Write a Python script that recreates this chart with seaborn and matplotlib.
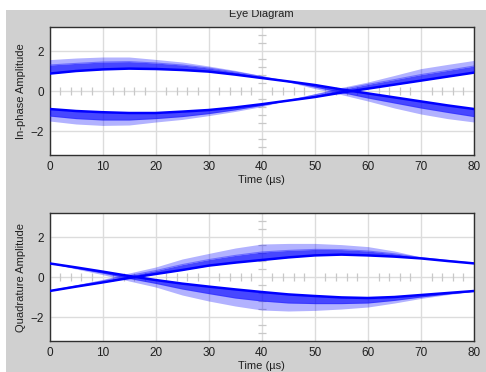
import numpy as np
import matplotlib
matplotlib.use("Agg")
import matplotlib.pyplot as plt
from matplotlib.patches import Rectangle
import seaborn as sns

# ---- data ----
time_us = [0, 5, 10, 15, 20, 25, 30, 35, 40, 45, 50, 55, 60, 65, 70, 75, 80]

# In-phase, family starting positive
i_pos_inner = [0.87, 1.0, 1.08, 1.12, 1.1, 1.05, 0.97, 0.82, 0.65, 0.48, 0.3, 0.08, -0.12, -0.32, -0.52, -0.72, -0.9]
i_pos_mid = [1.3, 1.38, 1.45, 1.47, 1.4, 1.3, 1.15, 0.95, 0.72, 0.47, 0.2, -0.07, -0.35, -0.6, -0.85, -1.07, -1.28]
i_pos_outer = [1.57, 1.65, 1.7, 1.7, 1.58, 1.45, 1.25, 1.03, 0.77, 0.45, 0.12, -0.18, -0.5, -0.85, -1.15, -1.38, -1.55]
# In-phase, family starting negative
i_neg_inner = [-0.9, -1.0, -1.06, -1.1, -1.1, -1.03, -0.95, -0.82, -0.66, -0.48, -0.3, -0.08, 0.12, 0.32, 0.52, 0.72, 0.92]
i_neg_mid = [-1.25, -1.38, -1.45, -1.45, -1.38, -1.28, -1.13, -0.94, -0.72, -0.47, -0.2, 0.07, 0.33, 0.57, 0.82, 1.03, 1.25]
i_neg_outer = [-1.5, -1.65, -1.72, -1.7, -1.55, -1.42, -1.23, -1.02, -0.78, -0.45, -0.13, 0.18, 0.45, 0.78, 1.12, 1.33, 1.53]

# Quadrature, family starting positive
q_pos_inner = [0.68, 0.48, 0.27, 0.05, -0.15, -0.33, -0.48, -0.62, -0.75, -0.87, -0.95, -1.02, -1.05, -1.0, -0.9, -0.8, -0.7]
q_pos_mid = [0.69, 0.44, 0.2, -0.07, -0.32, -0.6, -0.83, -1.05, -1.2, -1.3, -1.33, -1.33, -1.3, -1.17, -1.0, -0.85, -0.71]
q_pos_outer = [0.7, 0.4, 0.12, -0.2, -0.5, -0.9, -1.2, -1.45, -1.65, -1.7, -1.67, -1.6, -1.5, -1.3, -1.07, -0.88, -0.72]
# Quadrature, family starting negative
q_neg_inner = [-0.7, -0.48, -0.27, -0.05, 0.15, 0.35, 0.57, 0.72, 0.85, 0.98, 1.08, 1.12, 1.08, 1.02, 0.93, 0.8, 0.68]
q_neg_mid = [-0.7, -0.44, -0.2, 0.07, 0.32, 0.62, 0.87, 1.08, 1.25, 1.33, 1.38, 1.37, 1.3, 1.16, 0.97, 0.83, 0.69]
q_neg_outer = [-0.7, -0.4, -0.12, 0.2, 0.5, 0.9, 1.18, 1.45, 1.65, 1.68, 1.68, 1.62, 1.52, 1.3, 1.0, 0.85, 0.7]

x_ticks = [0, 10, 20, 30, 40, 50, 60, 70, 80]
y_ticks = [-2, 0, 2]
title = "Eye Diagram"
x_label = "Time (\u00b5s)"
y_labels = ["In-phase Amplitude", "Quadrature Amplitude"]

# ---- style ----
sns.set_theme(style="white")
plt.rcParams['font.family'] = ['Liberation Sans', 'DejaVu Sans']
plt.rcParams['font.size'] = 8

BG = '#d0d0d0'
GRID = '#dcdcdc'
fig = plt.figure(figsize=(4.86, 3.72), dpi=100, facecolor=BG)

ax_top = fig.add_axes([0.1019, 0.5833, 0.8735, 0.3441])
ax_bot = fig.add_axes([0.1019, 0.0833, 0.8735, 0.3441])


def draw_family(ax, inner, mid, outer):
    ax.fill_between(time_us, mid, outer, color='#0000ff', alpha=0.3, lw=0, zorder=3)
    ax.fill_between(time_us, inner, mid, color='#0000ff', alpha=0.72, lw=0, zorder=3)
    sns.lineplot(x=time_us, y=mid, ax=ax, color='#2a2aff', lw=0.8, alpha=0.5, zorder=4)
    sns.lineplot(x=time_us, y=inner, ax=ax, color='#0000ff', lw=1.8, zorder=5)


panels = [
    (ax_top, [(i_pos_inner, i_pos_mid, i_pos_outer), (i_neg_inner, i_neg_mid, i_neg_outer)], y_labels[0]),
    (ax_bot, [(q_pos_inner, q_pos_mid, q_pos_outer), (q_neg_inner, q_neg_mid, q_neg_outer)], y_labels[1]),
]

for ax, fams, ylab in panels:
    ax.set_facecolor('white')
    ax.set_xlim(0, 80)
    ax.set_ylim(-3.2, 3.2)
    ax.set_xticks(x_ticks)
    ax.set_yticks(y_ticks)
    ax.grid(True, color=GRID, lw=1.0, zorder=0)
    ax.set_axisbelow(True)
    # center crosshair ticks
    tx = [v for v in np.arange(2, 80, 2) if v % 10 != 0]
    ax.plot(tx, [0] * len(tx), ls='none', marker='|', ms=6, mew=0.9, color='#c8c8c8', zorder=1)
    ty = [v for v in np.arange(-3.2, 3.21, 0.4) if abs(v) > 1e-6 and abs(abs(v) - 2) > 1e-6]
    ax.plot([40] * len(ty), ty, ls='none', marker='_', ms=6, mew=0.9, color='#c8c8c8', zorder=1)
    for fam in fams:
        draw_family(ax, *fam)
    for s in ax.spines.values():
        s.set_color('#303030')
        s.set_linewidth(1.0)
    ax.tick_params(axis='both', length=0, pad=4, labelsize=8.5, colors='#202020')
    ax.set_xlabel(x_label, fontsize=8, labelpad=2, color='#202020')
    ax.set_ylabel(ylab, fontsize=8, labelpad=3, color='#202020')

ax_top.set_title(title, fontsize=8, pad=7, color='#202020')

# white margin strips of the original window capture
fig.patches.append(Rectangle((0, 1 - 10 / 372), 1, 10 / 372, transform=fig.transFigure,
                             facecolor='white', edgecolor='none', zorder=10))
fig.patches.append(Rectangle((0, 0), 6 / 486, 1, transform=fig.transFigure,
                             facecolor='white', edgecolor='none', zorder=10))

fig.savefig('out.png', dpi=100, facecolor=BG)
